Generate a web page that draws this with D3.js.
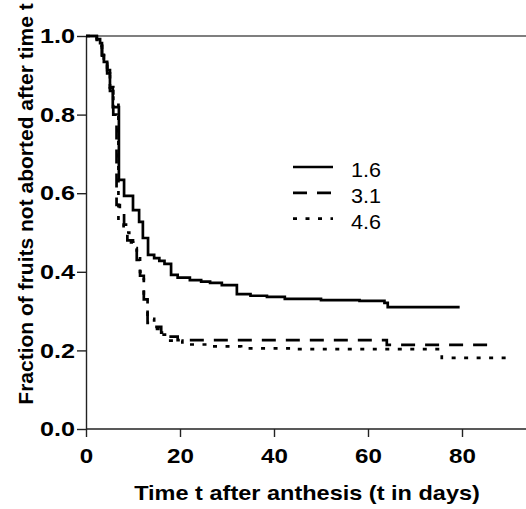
<!DOCTYPE html>
<html>
<head>
<meta charset="utf-8">
<script src="https://cdn.jsdelivr.net/npm/d3@7"></script>
<style>
  body { margin: 0; background: #fff; }
  svg { display: block; font-family: Arial, "Liberation Sans", sans-serif; }
</style>
</head>
<body>
<div class="chart"></div>
<script>
// step curves: time (days) where the fraction drops, and new fraction
var times16 = [0, 2.3, 3.0, 3.4, 3.8, 4.5, 5.1, 5.7, 7.0, 8.1, 10.0, 11.3, 12.1, 13.2, 14.5, 15.6, 16.7, 18.1, 19.5, 22.1, 24.5, 26.4, 28.9, 32.1, 35.0, 38.5, 42.3, 50.0, 58.2, 63.5, 64.2];
var frac16  = [1.0, 0.992, 0.982, 0.952, 0.934, 0.913, 0.868, 0.819, 0.634, 0.593, 0.557, 0.527, 0.486, 0.443, 0.435, 0.428, 0.42, 0.392, 0.385, 0.379, 0.375, 0.372, 0.366, 0.343, 0.339, 0.336, 0.331, 0.328, 0.326, 0.321, 0.310];
var end16 = 79.5;

var times31 = [0, 2.3, 3.0, 3.4, 3.8, 4.5, 5.1, 5.8, 6.5, 7.2, 8.1, 8.8, 10.0, 10.8, 11.5, 12.3, 13.1, 14.5, 16.0, 17.5, 19.5, 64.0];
var frac31  = [1.0, 0.99, 0.975, 0.95, 0.93, 0.905, 0.86, 0.80, 0.57, 0.55, 0.52, 0.48, 0.465, 0.43, 0.39, 0.33, 0.27, 0.26, 0.245, 0.235, 0.226, 0.214];
var end31 = 86.9;

var times46 = [0, 2.3, 3.0, 3.4, 3.8, 4.5, 5.1, 5.8, 6.9, 8.0, 9.2, 10.0, 10.8, 11.5, 12.3, 13.1, 14.5, 16.0, 17.5, 20.5, 26.4, 33.0, 45.0, 75.7];
var frac46  = [1.0, 0.99, 0.975, 0.95, 0.93, 0.905, 0.87, 0.835, 0.52, 0.50, 0.475, 0.46, 0.44, 0.40, 0.33, 0.28, 0.255, 0.24, 0.225, 0.215, 0.21, 0.205, 0.203, 0.181];
var end46 = 89.7;

var seriesNames = ["1.6", "3.1", "4.6"];
var xTicks = [0, 20, 40, 60, 80];
var yTicks = [0.0, 0.2, 0.4, 0.6, 0.8, 1.0];

var width = 526,
    height = 509;

var plotLeft = 86, plotRight = 526, plotTop = 36, plotBottom = 429;

var svg = d3.select(".chart").append("svg")
    .attr("width", width)
    .attr("height", height);

var xScale = d3.scaleLinear().domain([0, 80]).range([plotLeft, 462]);
var yScale = d3.scaleLinear().domain([0, 1]).range([plotBottom, plotTop]);

function toSteps(times, fracs, end) {
  var pts = times.map(function(t, i) { return { t: t, f: fracs[i] }; });
  pts.push({ t: end, f: fracs[fracs.length - 1] });
  return pts;
}

var slice = [
  { id: seriesNames[0], values: toSteps(times16, frac16, end16), dash: null },
  { id: seriesNames[1], values: toSteps(times31, frac31, end31), dash: "14,10" },
  { id: seriesNames[2], values: toSteps(times46, frac46, end46), dash: "4,8.5" }
];

// line across the top at 1.0
svg.append("line")
    .attr("x1", plotLeft).attr("x2", plotRight)
    .attr("y1", yScale(1)).attr("y2", yScale(1))
    .style("stroke", "#555")
    .style("stroke-width", 1.3);

// x axis
var xaxis = d3.axisBottom(xScale)
    .tickValues(xTicks)
    .tickFormat(d3.format("d"))
    .tickSize(8)
    .tickSizeOuter(0)
    .tickPadding(11);

var gx = svg.append("g")
    .attr("transform", "translate(0," + plotBottom + ")")
    .call(xaxis);

gx.select(".domain").attr("d", "M" + plotLeft + ",0H" + plotRight);

gx.selectAll("text")
    .style("font-size", "21px")
    .style("font-weight", "bold")
    .style("fill", "#000")
    .attr("transform", "scale(1.15,1)");

// y axis
var yaxis = d3.axisLeft(yScale)
    .tickValues(yTicks)
    .tickFormat(d3.format(".1f"))
    .tickSize(9)
    .tickSizeOuter(0)
    .tickPadding(2);

var gy = svg.append("g")
    .attr("transform", "translate(" + plotLeft + ",0)")
    .call(yaxis);

gy.selectAll("text")
    .style("font-size", "21px")
    .style("font-weight", "bold")
    .style("fill", "#000")
    .attr("x", -11 / 1.2)
    .attr("transform", "scale(1.2,1)");

svg.selectAll(".domain, .tick line")
    .style("stroke", "#222")
    .style("stroke-width", 1.4);

// axis titles
svg.append("text")
    .attr("transform", "translate(307,500) scale(1.12,1)")
    .style("text-anchor", "middle")
    .style("font-size", "21px")
    .style("font-weight", "bold")
    .text("Time t after anthesis (t in days)");

svg.append("text")
    .attr("transform", "translate(33,204) rotate(-90)")
    .style("text-anchor", "middle")
    .style("font-size", "21px")
    .style("font-weight", "bold")
    .text("Fraction of fruits not aborted after time t");

// curves
var line = d3.line()
    .curve(d3.curveStepAfter)
    .x(function(d) { return xScale(d.t); })
    .y(function(d) { return yScale(d.f); });

svg.selectAll(".series")
    .data(slice)
    .enter()
    .append("path")
    .attr("class", "series")
    .attr("d", function(d) { return line(d.values); })
    .style("fill", "none")
    .style("stroke", "#000")
    .style("stroke-width", 2.7)
    .style("stroke-dasharray", function(d) { return d.dash; });

// legend
var legend = svg.selectAll(".legend")
    .data(slice)
    .enter()
    .append("g")
    .attr("class", "legend")
    .attr("transform", function(d, i) { return "translate(293," + (167 + i * 25.8) + ")"; });

legend.append("line")
    .attr("x1", 0).attr("x2", 40)
    .style("stroke", "#000")
    .style("stroke-width", 2.7)
    .style("stroke-dasharray", function(d) { return d.dash; });

legend.append("text")
    .attr("transform", "translate(58,10) scale(1.08,1)")
    .style("font-size", "20px")
    .text(function(d) { return d.id; });
</script>
</body>
</html>
